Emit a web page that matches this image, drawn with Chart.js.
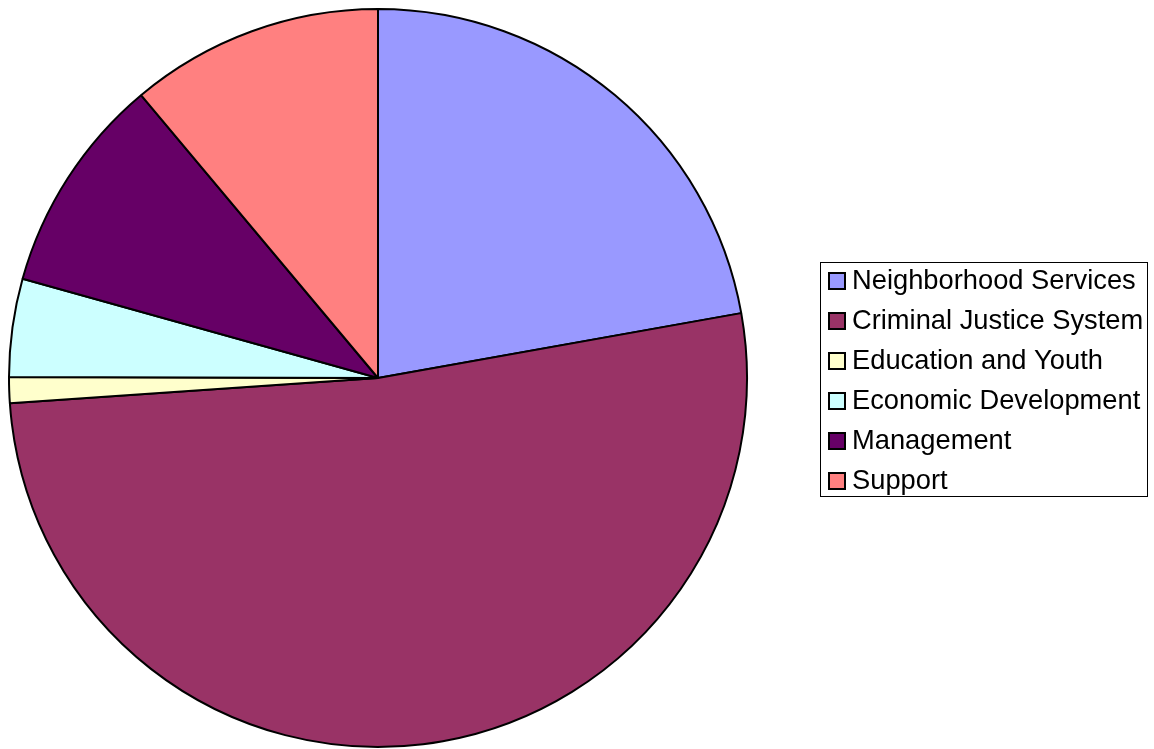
<!DOCTYPE html>
<html>
<head>
<meta charset="utf-8">
<script src="https://cdn.jsdelivr.net/npm/chart.js@4"></script>
<style>
html,body{margin:0;padding:0;background:#fff;}
#wrap{position:relative;width:1154px;height:749px;}
</style>
</head>
<body>
<div id="wrap"><canvas id="c" width="1154" height="749"></canvas></div>
<script>
const categories = ["Neighborhood Services", "Criminal Justice System", "Education and Youth", "Economic Development", "Management", "Support"];
const shares = [22.19, 51.73, 1.13, 4.29, 9.57, 11.10];
const sliceColors = ["#9999FF", "#993366", "#FFFFCC", "#CCFFFF", "#660066", "#FF8080"];

const boxedLegend = {
  id: 'boxedLegend',
  afterDraw(chart) {
    const ctx = chart.ctx;
    const labels = chart.data.labels;
    const colors = chart.data.datasets[0].backgroundColor;
    const left = 820.5, top = 262.5, w = 327, h = 234;
    ctx.save();
    ctx.strokeStyle = '#000';
    ctx.lineWidth = 1;
    ctx.strokeRect(left, top, w, h);
    ctx.font = '27.3px "Liberation Sans", Arial, sans-serif';
    ctx.textBaseline = 'alphabetic';
    ctx.fillStyle = '#000';
    labels.forEach((lab, i) => {
      const y0 = 273 + i * 40;
      ctx.fillStyle = colors[i];
      ctx.fillRect(829, y0, 16, 16);
      ctx.strokeStyle = '#000';
      ctx.lineWidth = 2;
      ctx.strokeRect(829, y0, 16, 16);
      ctx.fillStyle = '#000';
      ctx.fillText(lab, 852, y0 + 16);
    });
    ctx.restore();
  }
};

new Chart(document.getElementById('c'), {
  type: 'pie',
  data: {
    labels: categories,
    datasets: [{
      data: shares,
      backgroundColor: sliceColors,
      borderColor: '#000',
      borderWidth: 2
    }]
  },
  options: {
    responsive: false,
    animation: false,
    layout: { padding: { left: 8, top: 8, right: 406, bottom: 1 } },
    plugins: {
      legend: { display: false },
      tooltip: { enabled: false }
    }
  },
  plugins: [boxedLegend]
});
</script>
</body>
</html>
